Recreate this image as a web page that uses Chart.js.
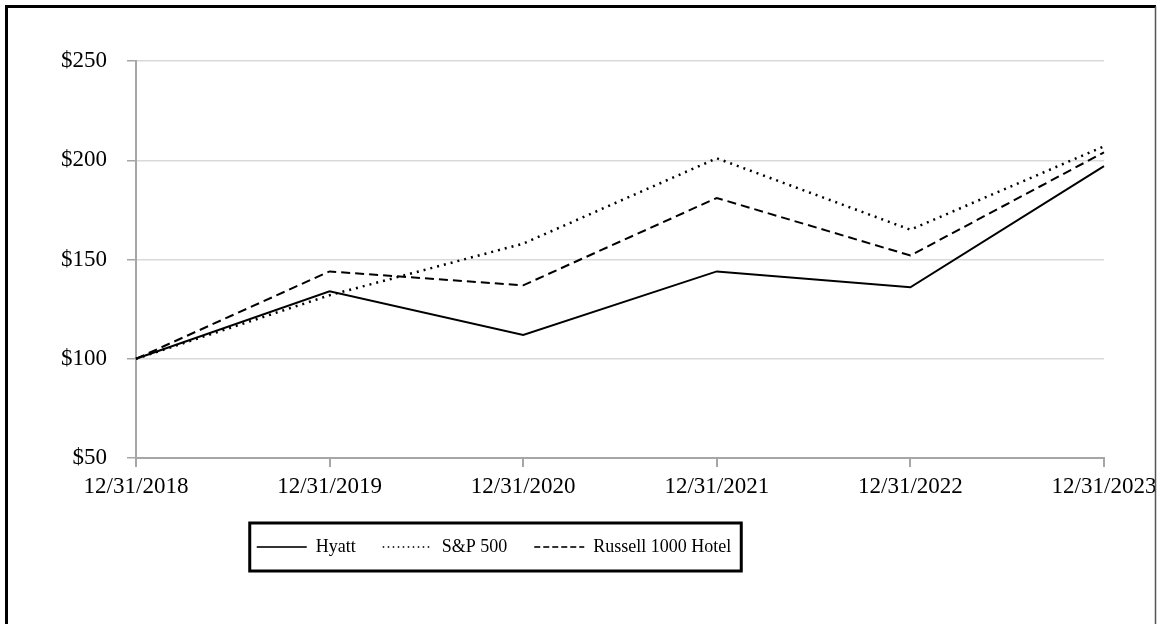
<!DOCTYPE html>
<html>
<head>
<meta charset="utf-8">
<script src="https://cdn.jsdelivr.net/npm/chart.js@4/dist/chart.umd.min.js"></script>
<style>
  html, body { margin: 0; padding: 0; background: #fff; }
  #wrap { position: relative; width: 1158px; height: 624px; }
</style>
</head>
<body>
<div id="wrap"><canvas id="perfChart"></canvas></div>
<script>
// Cumulative total return, $100 invested at 12/31/2018
const years = ['12/31/2018', '12/31/2019', '12/31/2020', '12/31/2021', '12/31/2022', '12/31/2023'];
const hyatt = [100, 134, 112, 144, 136, 197];
const sp500 = [100, 132, 158, 201, 165, 207];
const russellHotel = [100, 144, 137, 181, 152, 204];
const yTicks = [50, 100, 150, 200, 250];

const SERIF = '"Liberation Serif", "Times New Roman", serif';
const LEGEND_CENTER = 494;

// outer frame + box around the legend
const framePlugin = {
    id: 'framePlugin',
    afterLayout(chart) {
        // move the legend so it sits left of centre like the original
        const lg = chart.legend;
        if (!lg || !lg.lineWidths) return;
        const half = lg.lineWidths[0] / 2 + 20;
        lg.left = LEGEND_CENTER - half;
        lg.right = LEGEND_CENTER + half;
    },
    afterDraw(chart) {
        const ctx = chart.ctx;
        ctx.save();
        ctx.setLineDash([]);
        ctx.strokeStyle = '#000';
        ctx.lineWidth = 3;
        ctx.beginPath();
        ctx.moveTo(6.5, 624);
        ctx.lineTo(6.5, 6.5);
        ctx.lineTo(1156, 6.5);
        ctx.stroke();
        ctx.strokeStyle = '#555';
        ctx.lineWidth = 1.5;
        ctx.beginPath();
        ctx.moveTo(1155.5, 6.5);
        ctx.lineTo(1155.5, 624);
        ctx.stroke();

        const lg = chart.legend;
        const hbs = lg && lg.legendHitBoxes;
        if (hbs && hbs.length) {
            const first = hbs[0];
            const last = hbs[hbs.length - 1];
            const cy = first.top + first.height / 2;
            const x0 = first.left - 7;
            const x1 = last.left + last.width + 10;
            ctx.strokeStyle = '#000';
            ctx.lineWidth = 3;
            ctx.strokeRect(x0, cy - 24, x1 - x0, 48);
        }
        ctx.restore();
    }
};

const legendDash = {
    'Hyatt': [],
    'S&P 500': [1.5, 3.5],
    'Russell 1000 Hotel': [6, 3]
};

new Chart(document.getElementById('perfChart'), {
    type: 'line',
    data: {
        labels: years,
        datasets: [{
            label: 'Hyatt',
            data: hyatt,
            borderColor: '#000',
            borderWidth: 2,
            pointRadius: 0,
            tension: 0,
            fill: false
        }, {
            label: 'S&P 500',
            data: sp500,
            borderColor: '#000',
            borderWidth: 2.5,
            borderDash: [2, 5],
            pointRadius: 0,
            tension: 0,
            fill: false
        }, {
            label: 'Russell 1000 Hotel',
            data: russellHotel,
            borderColor: '#000',
            borderWidth: 2,
            borderDash: [9, 5],
            pointRadius: 0,
            tension: 0,
            fill: false
        }]
    },
    options: {
        responsive: true,
        maintainAspectRatio: false,
        animation: false,
        layout: {
            padding: { top: 61, left: 0, right: 0, bottom: 58 }
        },
        scales: {
            x: {
                offset: false,
                grid: {
                    drawOnChartArea: false,
                    drawTicks: true,
                    tickColor: '#a6a6a6',
                    tickLength: 9,
                    lineWidth: 2
                },
                border: { color: '#a6a6a6', width: 2 },
                ticks: {
                    color: '#000',
                    padding: 6,
                    maxRotation: 0,
                    autoSkip: false,
                    font: { family: SERIF, size: 23 }
                },
                afterFit(scale) {
                    scale.height = 53;
                    // last label is allowed to touch the frame, as in the original
                    scale.paddingRight = 54;
                }
            },
            y: {
                min: 50,
                max: 250,
                afterBuildTicks(scale) {
                    scale.ticks = yTicks.map(v => ({ value: v }));
                },
                grid: {
                    color: '#d9d9d9',
                    lineWidth: 1.5,
                    tickColor: '#a6a6a6',
                    tickLength: 9
                },
                border: { color: '#a6a6a6', width: 2 },
                ticks: {
                    color: '#000',
                    padding: 20,
                    font: { family: SERIF, size: 23 },
                    callback: v => '$' + v
                },
                afterFit(scale) {
                    scale.width = 136;
                }
            }
        },
        plugins: {
            legend: {
                display: true,
                position: 'bottom',
                labels: {
                    color: '#000',
                    font: { family: SERIF, size: 18 },
                    padding: 27,
                    usePointStyle: true,
                    pointStyle: 'line',
                    pointStyleWidth: 50,
                    generateLabels(chart) {
                        const items = Chart.defaults.plugins.legend.labels.generateLabels(chart);
                        return items.map(it => {
                            it.lineDash = legendDash[it.text] || [];
                            it.lineWidth = 2;
                            it.strokeStyle = '#333';
                            it.pointStyle = 'line';
                            return it;
                        });
                    }
                }
            },
            tooltip: { enabled: false }
        }
    },
    plugins: [framePlugin]
});
</script>
</body>
</html>
